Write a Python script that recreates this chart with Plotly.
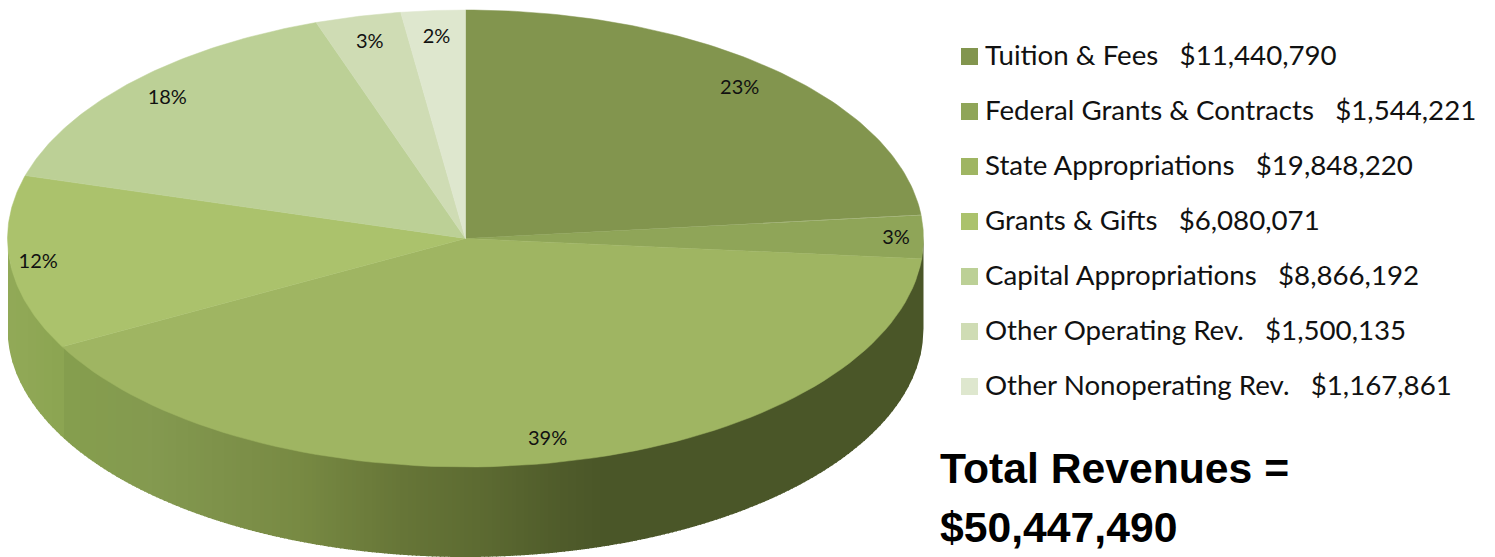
import numpy as np
import plotly.graph_objects as go

# ---- data ----
categories = ["Tuition & Fees", "Federal Grants & Contracts", "State Appropriations", "Grants & Gifts",
              "Capital Appropriations", "Other Operating Rev.", "Other Nonoperating Rev."]
revenues = [11440790, 1544221, 19848220, 6080071, 8866192, 1500135, 1167861]
slice_colors = ["#82954e", "#8fa558", "#9fb562", "#abc26c", "#bcd096", "#cfdcb4", "#dee7ce"]
total_lines = ["Total Revenues =", "$50,447,490"]

# side wall shading, left to right
wall_stop_x = [8, 62, 63, 150, 250, 300, 400, 480, 560, 610, 925]
wall_stop_rgb = [(146, 170, 88), (140, 165, 82), (134, 159, 78), (132, 154, 80), (124, 143, 72), (120, 138, 67),
                 (103, 118, 56), (93, 107, 50), (80, 92, 43), (74, 86, 40), (74, 86, 40)]

# ---- geometry of the tilted pie (canvas units) ----
CX, CY, RX, RY, DEPTH = 465.5, 238.5, 458, 228.5, 90
# the perspective projection moves edges slightly: true angle -> drawn angle
persp_true = [0, 81.6, 92.6, 234, 277.7, 341, 351.6, 360]
persp_draw = [0, 84, 95, 241.4, 286, 341, 351.8, 360]


def warp(a):
    return np.interp(a, persp_true, persp_draw)


def pt(a, r=1.0):
    t = np.radians(a)
    return CX + RX * r * np.sin(t), CY - RY * r * np.cos(t)


vals = np.array(revenues, float)
edges = np.concatenate([[0], np.cumsum(vals) / vals.sum() * 360])
drawn = warp(edges)

fig = go.Figure()

# side wall: thin vertical strips under the front half of the ellipse
xs = np.arange(wall_stop_x[0], 924.0, 4.0)
xs = np.append(xs, CX + RX)
for x0, x1 in zip(xs[:-1], xs[1:]):
    xx = np.linspace(x0, min(x1 + 1, CX + RX), 5)
    u = np.clip((xx - CX) / RX, -1, 1)
    top = CY + RY * np.sqrt(1 - u ** 2)
    mid = (x0 + x1) / 2
    rgb = [np.interp(mid, wall_stop_x, [c[i] for c in wall_stop_rgb]) for i in range(3)]
    col = "rgb(%d,%d,%d)" % tuple(rgb)
    fig.add_trace(go.Scatter(x=np.concatenate([xx, xx[::-1]]), y=np.concatenate([top - 2, top[::-1] + DEPTH]),
                             fill="toself", fillcolor=col, mode="none", hoverinfo="skip", showlegend=False))

# top faces
for i, name in enumerate(categories):
    a = np.linspace(drawn[i], drawn[i + 1], 80)
    px, py = pt(a)
    fig.add_trace(go.Scatter(x=np.concatenate([[CX], px, [CX]]), y=np.concatenate([[CY], py, [CY]]),
                             fill="toself", fillcolor=slice_colors[i], mode="lines",
                             line=dict(color=slice_colors[i], width=0.5), name=name, hoverinfo="name",
                             showlegend=False))

# percentage labels, inside the rim
mids = (drawn[:-1] + drawn[1:]) / 2
radii = 0.89 + 0.05 * np.abs(np.sin(np.radians(mids))) ** 6
lx, ly = pt(mids, radii)
fig.add_trace(go.Scatter(x=lx, y=ly + 2, mode="text", text=["%d%%" % round(v / vals.sum() * 100) for v in vals],
                         textfont=dict(family="Lato", size=20, color="#111"), hoverinfo="skip", showlegend=False))

# legend
rows = np.arange(len(categories))
fig.add_trace(go.Scatter(x=[969.5] * len(categories), y=56.5 + 55 * rows, mode="markers",
                         marker=dict(symbol="square", size=17, color=slice_colors, line=dict(width=0)),
                         hoverinfo="skip", showlegend=False))
for name, v, y in zip(categories, revenues, 54 + 55 * rows):
    fig.add_annotation(x=983, y=y, text=f"{name}\u00a0\u00a0\u00a0${v:,}", xanchor="left", yanchor="middle",
                       showarrow=False, font=dict(family="Lato", size=27.7, color="#111"))

for line, y in zip(total_lines, [468, 527]):
    fig.add_annotation(x=938, y=y, text=f"<b>{line}</b>", xanchor="left", yanchor="middle", showarrow=False,
                       font=dict(family="Liberation Sans", size=42.7, color="#000"))

fig.update_layout(width=1495, height=557, margin=dict(l=0, r=0, t=0, b=0), paper_bgcolor="white",
                  plot_bgcolor="white", showlegend=False,
                  xaxis=dict(range=[0, 1495], visible=False, fixedrange=True),
                  yaxis=dict(range=[557, 0], visible=False, fixedrange=True))
fig.write_html("out.html", post_script="document.body.style.margin='0';", config={"displayModeBar": False})
